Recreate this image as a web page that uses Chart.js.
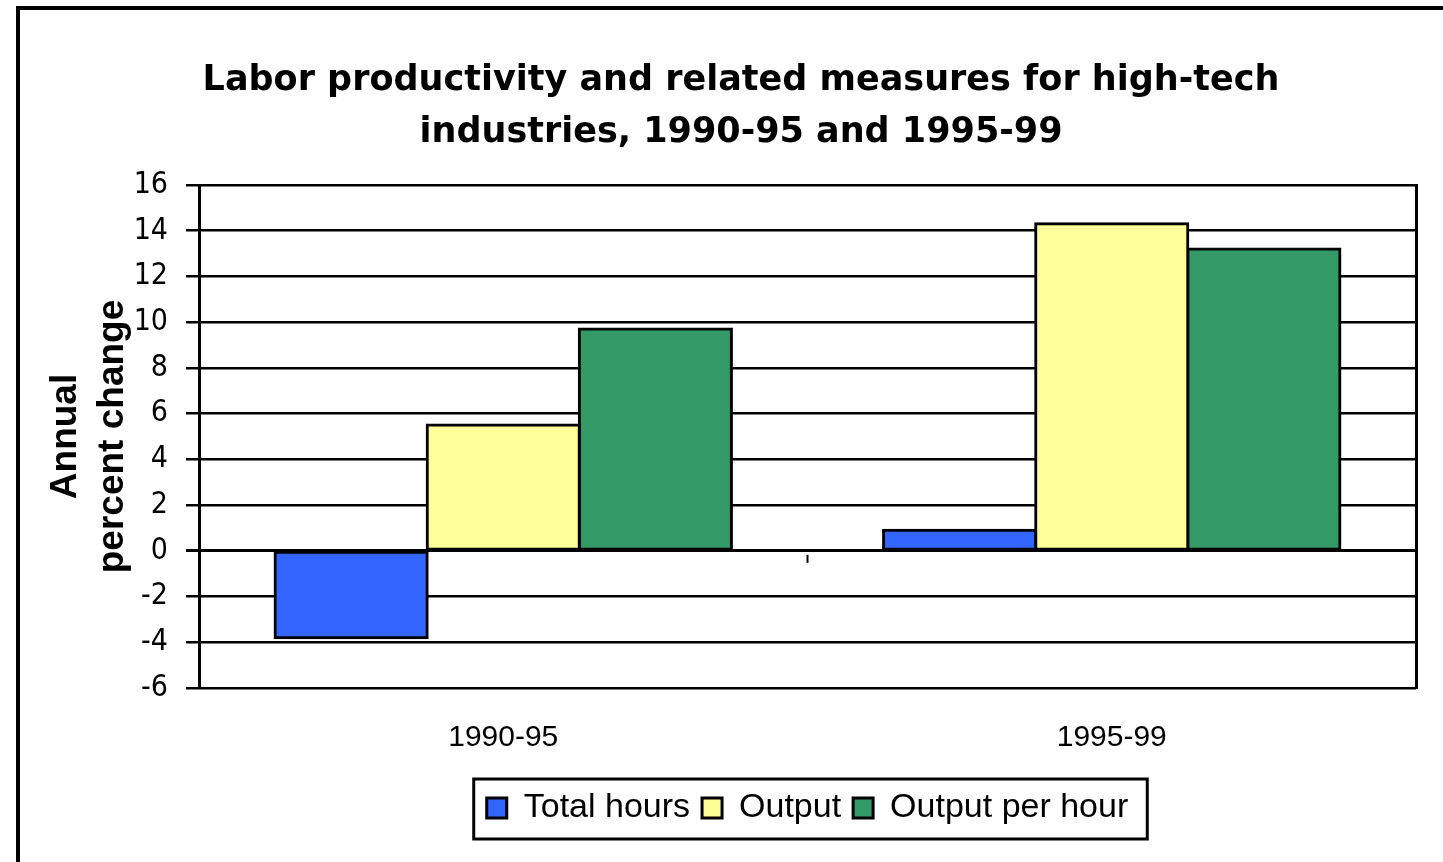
<!DOCTYPE html>
<html>
<head>
<meta charset="utf-8">
<script src="https://cdn.jsdelivr.net/npm/chart.js@4.4.1/dist/chart.umd.min.js"></script>
<style>
  html, body { margin: 0; padding: 0; background: #fff; overflow: hidden; }
  #wrap { position: relative; width: 1443px; height: 862px; }
  #frame { position: absolute; left: 16px; top: 6px; width: 1500px; height: 900px; border: 4px solid #000; box-sizing: border-box; }
  canvas { position: absolute; left: 0; top: 0; }
</style>
</head>
<body>
<div id="wrap">
  <div id="frame"></div>
  <canvas id="c" width="1443" height="862"></canvas>
</div>
<script>
// ---- data ----
const categories = ['1990-95', '1995-99'];
const totalHours = [-3.8, 0.9];
const output = [5.5, 14.3];
const outputPerHour = [9.7, 13.2];
const seriesNames = ['Total hours', 'Output', 'Output per hour'];
const seriesColors = ['#3366FF', '#FFFF99', '#339966'];
const yTicks = [-6, -4, -2, 0, 2, 4, 6, 8, 10, 12, 14, 16];
const titleLines = ['Labor productivity and related measures for high-tech', 'industries, 1990-95 and 1995-99'];
const yTitleLines = ['Annual', 'percent change'];

const SANS = '"Liberation Sans", Arial, sans-serif';
const WIDE = '"DejaVu Sans", "Liberation Sans", Arial, sans-serif';
const NARROW = '"Liberation Sans Narrow", "DejaVu Sans Condensed", "Liberation Sans", Arial, sans-serif';

// center the legend under the plot area and the title on the framed chart (as in the reference)
const boxCenter = {
  id: 'boxCenter',
  afterLayout(chart) {
    const lg = chart.legend, ca = chart.chartArea, tt = chart.titleBlock;
    if (lg) {
      lg.left = ca.left;
      lg.right = ca.right;
      lg.width = ca.right - ca.left;
    }
    if (tt) {
      tt.left = 30;
      tt.right = 1452;
      tt.width = tt.right - tt.left;
    }
  }
};

const legendFrame = {
  id: 'legendFrame',
  afterDraw(chart) {
    const boxes = chart.legend && chart.legend.legendHitBoxes;
    if (!boxes || !boxes.length) return;
    const first = boxes[0], last = boxes[boxes.length - 1];
    const l = first.left - 13, r = last.left + last.width + 19;
    const t = first.top - 12, b = first.top + first.height + 14;
    const ctx = chart.ctx;
    ctx.save();
    ctx.strokeStyle = '#000';
    ctx.lineWidth = 3;
    ctx.strokeRect(l, t, r - l, b - t);
    ctx.restore();
  }
};

const midTick = {
  id: 'midTick',
  afterDatasetsDraw(chart) {
    const x = chart.scales.x, y = chart.scales.y;
    const px = (x.getPixelForValue(0) + x.getPixelForValue(1)) / 2;
    const py = y.getPixelForValue(0);
    const ctx = chart.ctx;
    ctx.save();
    ctx.strokeStyle = '#000';
    ctx.lineWidth = 2;
    ctx.beginPath();
    ctx.moveTo(px, py + 4);
    ctx.lineTo(px, py + 12);
    ctx.stroke();
    ctx.restore();
  }
};

const seriesData = [totalHours, output, outputPerHour];

new Chart(document.getElementById('c'), {
  type: 'bar',
  data: {
    labels: categories,
    datasets: seriesNames.map((name, i) => ({
      label: name,
      data: seriesData[i],
      backgroundColor: seriesColors[i],
      borderColor: '#000',
      borderWidth: 3,
      borderSkipped: false,
      inflateAmount: 1.5,
      categoryPercentage: 0.75,
      barPercentage: 1.0
    }))
  },
  options: {
    responsive: false,
    animation: false,
    devicePixelRatio: 1,
    layout: { padding: { left: 30, right: 27, top: 0, bottom: 27 } },
    plugins: {
      title: {
        display: true,
        text: titleLines,
        color: '#000',
        font: { family: WIDE, size: 35, weight: 'bold', lineHeight: 52 / 35 },
        padding: { top: 55, bottom: 26 }
      },
      legend: {
        display: true,
        position: 'bottom',
        labels: {
          color: '#000',
          font: { family: SANS, size: 34 },
          boxWidth: 20,
          boxHeight: 20,
          padding: 12
        }
      },
      tooltip: { enabled: false }
    },
    scales: {
      x: {
        grid: { display: false, drawTicks: false },
        border: { display: false },
        ticks: { color: '#000', font: { family: SANS, size: 30 }, padding: 32 },
        afterFit(s) { s.height = 91; }
      },
      y: {
        min: -6, max: 16,
        afterBuildTicks(s) { s.ticks = yTicks.map(v => ({ value: v })); },
        grid: {
          color: '#000',
          lineWidth: (c) => (c.tick && c.tick.value === 0 ? 3 : 2.5),
          tickLength: 13
        },
        border: { display: true, color: '#000', width: 3 },
        ticks: { color: '#000', font: { family: NARROW, size: 30 }, padding: 18 },
        title: {
          display: true,
          text: yTitleLines,
          color: '#000',
          font: { family: SANS, size: 37, weight: 'bold', lineHeight: 47 / 37 },
          padding: { top: 12, bottom: 0 }
        },
        afterFit(s) { s.width = 199 - 30; }
      },
      yR: {
        position: 'right',
        min: -6, max: 16,
        grid: { display: false },
        ticks: { display: false },
        border: { display: true, color: '#000', width: 3 },
        afterFit(s) { s.width = 0; }
      }
    }
  },
  plugins: [boxCenter, legendFrame, midTick]
});
</script>
</body>
</html>
